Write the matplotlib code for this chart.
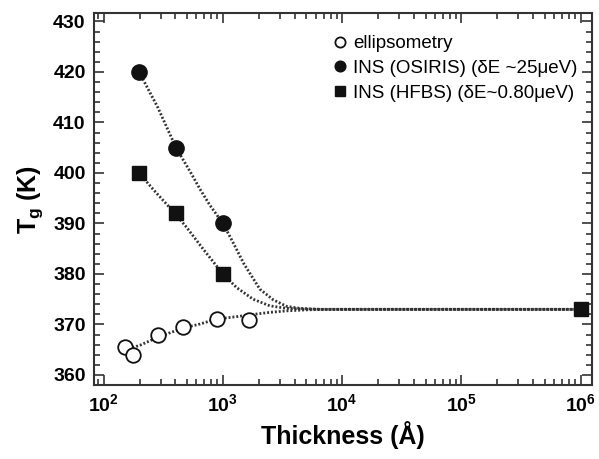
import matplotlib
matplotlib.use("Agg")
import matplotlib.pyplot as plt
from matplotlib.ticker import MultipleLocator, LogLocator, FixedLocator

plt.rcParams['font.family'] = ['Liberation Sans', 'DejaVu Sans']
plt.rcParams['mathtext.fontset'] = 'custom'
plt.rcParams['mathtext.rm'] = 'Liberation Sans:bold'
plt.rcParams['mathtext.it'] = 'Liberation Sans:bold'
plt.rcParams['mathtext.bf'] = 'Liberation Sans:bold'

### measured points
ell_x = [151, 177, 286, 462, 891, 1652]
ell_y = [365.5, 364.0, 368.0, 369.5, 371.0, 370.8]
osi_x = [198, 404, 1000]
osi_y = [420, 405, 390]
hfbs_x = [198, 404, 1000, 1e6]
hfbs_y = [400, 392, 380, 373]

### fit curves
osi_fit_x = [198, 284, 404, 530, 642, 778, 1000, 1200, 1500, 2040, 2637,
             3413, 4405, 6486, 1e6]
osi_fit_y = [420.0, 413.0, 405.0, 400.3, 396.8, 393.6, 390.0, 386.5, 382.0,
             377.0, 374.9, 373.6, 373.2, 373.0, 373.0]
hfbs_fit_x = [198, 261, 396, 497, 684, 1000, 1303, 1793, 2470, 3413, 4700,
              7000, 1e6]
hfbs_fit_y = [400.0, 396.7, 392.0, 389.2, 384.9, 380.0, 377.3, 375.0, 373.7,
              373.2, 373.05, 373.0, 373.0]
ell_fit_x = [151, 202, 286, 463, 643, 891, 1303, 1793, 2470, 3413, 5010,
             8000, 1e6]
ell_fit_y = [364.95, 365.9, 367.5, 369.3, 370.1, 371.1, 371.55, 372.0,
             372.4, 372.7, 372.9, 373.0, 373.0]

fig = plt.figure(figsize=(5.99, 4.59), dpi=100)
ax = fig.add_axes([0.157, 0.161, 0.831, 0.811])

fit_style = dict(color='#333333', lw=2.0, ls=(0, (0.7, 0.7)), zorder=1)
ax.plot(osi_fit_x, osi_fit_y, **fit_style)
ax.plot(hfbs_fit_x, hfbs_fit_y, **fit_style)
ax.plot(ell_fit_x, ell_fit_y, **fit_style)

ax.plot(ell_x, ell_y, 'o', ms=10.5, mfc='white', mec='#111111', mew=1.3,
        ls='none', label='ellipsometry', zorder=3)
ax.plot(osi_x, osi_y, 'o', ms=11, mfc='#111111', mec='#111111',
        ls='none', label='INS (OSIRIS) (δE ~25μeV)', zorder=3)
ax.plot(hfbs_x, hfbs_y, 's', ms=10, mfc='#111111', mec='#111111',
        ls='none', label='INS (HFBS) (δE~0.80μeV)', zorder=3)

ax.set_xscale('log')
ax.set_xlim(83, 1.24e6)
ax.set_ylim(358, 431.7)

ax.xaxis.set_major_locator(FixedLocator([1e2, 1e3, 1e4, 1e5, 1e6]))
ax.xaxis.set_minor_locator(LogLocator(base=10, subs=range(2, 10), numticks=20))
ax.set_xticklabels([r'$10^{2}$', r'$10^{3}$', r'$10^{4}$', r'$10^{5}$', r'$10^{6}$'])
ax.yaxis.set_major_locator(MultipleLocator(10))
ax.yaxis.set_minor_locator(MultipleLocator(2))

ax.tick_params(which='both', direction='in', top=True, right=True,
               color='#333333', width=1.2)
ax.tick_params(which='major', length=7, labelsize=14, pad=6)
ax.tick_params(which='minor', length=4)
for lab in ax.get_yticklabels():
    lab.set_fontweight('bold')
for s in ax.spines.values():
    s.set_color('#333333')
    s.set_linewidth(1.5)

ax.set_xlabel('Thickness (Å)', fontsize=18, fontweight='bold', labelpad=4)
ax.set_ylabel(r'$T_g$ (K)', fontsize=18, fontweight='bold', labelpad=6)

ax.legend(loc='upper right', bbox_to_anchor=(1.005, 0.985), frameon=False,
          fontsize=13.5, markerscale=0.7, handletextpad=0.1, labelspacing=0.4,
          handlelength=1.2)

fig.savefig('out.png', dpi=100)
